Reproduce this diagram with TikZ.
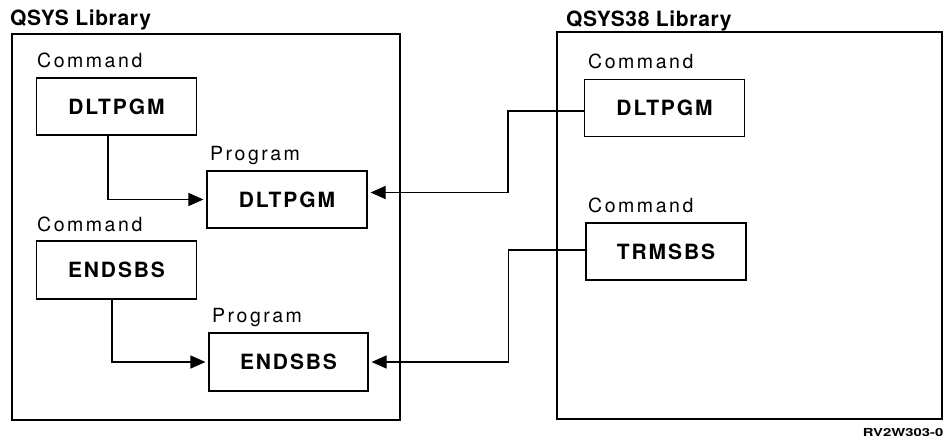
\documentclass[tikz,border=0pt]{standalone}
\usepackage{fontspec}
\usepackage{graphicx}
\setmainfont{TeX Gyre Heros}
\newfontfamily\kindfont[LetterSpace=13]{TeX Gyre Heros}
\newfontfamily\objfont[LetterSpace=9]{TeX Gyre Heros}
\newfontfamily\titlefont[LetterSpace=3]{TeX Gyre Heros}
\usetikzlibrary{arrows.meta}
\tikzset{
    lib-frame/.style = {draw, line width=1.1pt, rectangle, inner sep=0pt},
    lib-title/.style = {font=\titlefont\fontsize{21}{24}\selectfont\bfseries, inner sep=0pt, anchor=base west},
    kind-label/.style = {font=\kindfont\fontsize{19.5}{22}\selectfont, inner sep=0pt, anchor=base west},
    obj-box/.style = {draw, line width=1.1pt, rectangle, minimum width=160pt, minimum height=57pt, inner sep=0pt, font=\objfont\fontsize{21}{24}\selectfont\bfseries},
    link/.style = {line width=1.1pt},
    link-arrow/.style = {link, -{Triangle[length=15pt,width=13pt]}, shorten >=3pt},
}

\begin{document}
\begin{tikzpicture}[x=1pt, y=-1pt]
\useasboundingbox (0,0) rectangle (944,442);
% the two libraries
\node [lib-frame, minimum width=388pt, minimum height=386pt] (qsys) at (206,227) {};
\node [lib-title] (qsys-title) at (10,25) {QSYS Library};
\node [lib-frame, minimum width=385pt, minimum height=387pt] (qsys38) at (749.5,225.5) {};
\node [lib-title] (qsys38-title) at (566,26) {QSYS38 Library};

% objects in QSYS
\node [kind-label] (cmd-dlt-kind) at (37,67) {Command};
\node [obj-box] (cmd-dlt) at (116.5,106.5) {DLTPGM};
\node [kind-label] (pgm-dlt-kind) at (210,160) {Program};
\node [obj-box] (pgm-dlt) at (287,199.5) {DLTPGM};
\node [kind-label] (cmd-end-kind) at (37,231) {Command};
\node [obj-box, minimum height=58pt] (cmd-end) at (116.5,270) {ENDSBS};
\node [kind-label] (pgm-end-kind) at (212,322) {Program};
\node [obj-box, minimum width=159pt, minimum height=58pt] (pgm-end) at (288.5,362) {ENDSBS};

% objects in QSYS38
\node [kind-label] (cmd38-dlt-kind) at (588,68) {Command};
\node [obj-box] (cmd38-dlt) at (664.5,108) {DLTPGM};
\node [kind-label] (cmd38-trm-kind) at (588,212) {Command};
\node [obj-box] (cmd38-trm) at (666,251.5) {TRMSBS};

% connectors
\draw [link-arrow] ([xshift=-8.5pt]cmd-dlt.south) |- (pgm-dlt.west);
\draw [link-arrow] ([xshift=-4.5pt]cmd-end.south) |- (pgm-end.west);
\draw [link-arrow] ([yshift=-3pt]cmd38-dlt.west) -- ++(-76,0) |- ([yshift=7pt]pgm-dlt.east);
\draw [link-arrow] ([yshift=1.5pt]cmd38-trm.west) -- ++(-77,0) |- (pgm-end.east);

\node [anchor=base east, inner sep=0pt, font=\fontsize{11}{12}\selectfont\bfseries] (fig-id) at (943.5,436) {\scalebox{1.35}[1]{RV2W303-0}};
\end{tikzpicture}
\end{document}
